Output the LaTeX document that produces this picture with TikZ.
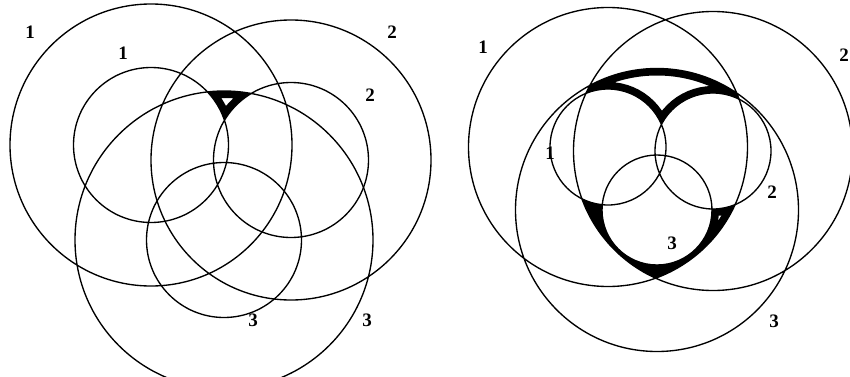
\documentclass[tikz,border=0pt]{standalone}
\usepackage{fontspec}
\setmainfont{Liberation Serif}
\begin{document}
\begin{tikzpicture}[x=1pt,y=1pt,
  thin circle/.style={line width=1.35pt},
  band/.style={line width=14pt},
  lab/.style={font=\fontsize{19}{19}\selectfont\bfseries, inner sep=0pt}]
\useasboundingbox (0,0) rectangle (850,376);
% ---------- left diagram ----------
\coordinate (LC1) at (151,231);
\coordinate (LC2) at (291,216);
\coordinate (LC3) at (224,136);
\begin{scope}
  \clip (LC1) circle[radius=141];
  \clip (LC2) circle[radius=140];
  \clip (LC3) circle[radius=149];
  \clip (0,0) -- (0,376) -- (850,376) -- (850,0) -- cycle (LC1) circle[radius=77.5];
  \clip (0,0) -- (0,376) -- (850,376) -- (850,0) -- cycle (LC2) circle[radius=77.5];
  \clip (0,0) -- (0,376) -- (850,376) -- (850,0) -- cycle (LC3) circle[radius=77.5];
  \draw[band] (LC1) circle[radius=141] (LC2) circle[radius=140] (LC3) circle[radius=149]
              (LC1) circle[radius=77.5] (LC2) circle[radius=77.5] (LC3) circle[radius=77.5];
\end{scope}
\draw[thin circle] (LC1) circle[radius=141] (LC2) circle[radius=140] (LC3) circle[radius=149];
\draw[thin circle] (LC1) circle[radius=77.5] (LC2) circle[radius=77.5] (LC3) circle[radius=77.5];
\node[lab] (l1a) at (30,344) {1};
\node[lab] (l1b) at (123,323) {1};
\node[lab] (l2a) at (392,344) {2};
\node[lab] (l2b) at (370,281) {2};
\node[lab] (l3a) at (253,56) {3};
\node[lab] (l3b) at (367,56) {3};
% ---------- right diagram ----------
\coordinate (RC1) at (608,229);
\coordinate (RC2) at (713,225);
\coordinate (RC3) at (657,166);
\begin{scope}
  \clip (RC1) circle[radius=139.5];
  \clip (RC2) circle[radius=139.5];
  \clip (RC3) circle[radius=141.5];
  \clip (0,0) -- (0,376) -- (850,376) -- (850,0) -- cycle (RC1) circle[radius=58];
  \clip (0,0) -- (0,376) -- (850,376) -- (850,0) -- cycle (RC2) circle[radius=58];
  \clip (0,0) -- (0,376) -- (850,376) -- (850,0) -- cycle (RC3) circle[radius=55];
  \draw[band] (RC1) circle[radius=139.5] (RC2) circle[radius=139.5] (RC3) circle[radius=141.5]
              (RC1) circle[radius=58] (RC2) circle[radius=58] (RC3) circle[radius=55];
\end{scope}
\draw[thin circle] (RC1) circle[radius=139.5] (RC2) circle[radius=139.5] (RC3) circle[radius=141.5];
\draw[thin circle] (RC1) circle[radius=58] (RC2) circle[radius=58] (RC3) circle[radius=55];
\node[lab] (r1a) at (483,329) {1};
\node[lab] (r1b) at (550,223) {1};
\node[lab] (r2a) at (844,321) {2};
\node[lab] (r2b) at (772,184) {2};
\node[lab] (r3a) at (672,133) {3};
\node[lab] (r3b) at (774,55) {3};
\end{tikzpicture}
\end{document}
